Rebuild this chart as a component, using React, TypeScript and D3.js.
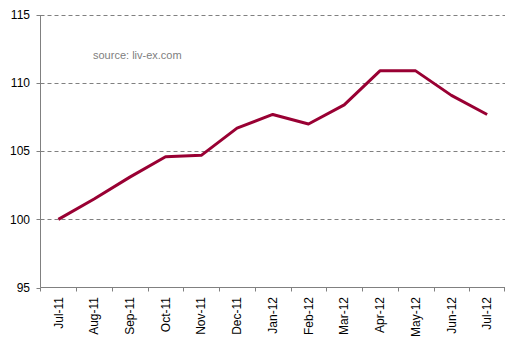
import React from "react";
import * as d3 from "d3";

const categories = ["Jul-11","Aug-11","Sep-11","Oct-11","Nov-11","Dec-11","Jan-12","Feb-12","Mar-12","Apr-12","May-12","Jun-12","Jul-12"];
const values = [100, 101.5, 103.1, 104.6, 104.7, 106.7, 107.7, 107.0, 108.4, 110.9, 110.9, 109.1, 107.7];
const yTicks = [95, 100, 105, 110, 115];
const sourceText = "source: liv-ex.com";

export default function App() {
  const W = 517, H = 347;
  const left = 40.5, right = 505, top = 15, bottom = 287.5;
  const x = d3.scaleBand<string>().domain(categories).range([left, right]);
  const y = d3.scaleLinear().domain([95, 115]).range([bottom, top]);
  const line = d3.line<number>()
    .x((_, i) => (x(categories[i]) as number) + x.bandwidth() / 2)
    .y((d) => y(d));
  const font = "Arial, 'Liberation Sans', sans-serif";
  return (
    <svg width={W} height={H} style={{ position: "absolute", left: 0, top: 0 }}>
      <rect width={W} height={H} fill="#fff" />
      {yTicks.filter((t) => t !== 95).map((t) => (
        <line key={t} x1={left} x2={right} y1={Math.round(y(t)) + 0.5} y2={Math.round(y(t)) + 0.5}
          stroke="#808080" strokeDasharray="4,3" strokeWidth={1} />
      ))}
      <line x1={left} x2={left} y1={top} y2={bottom} stroke="#808080" />
      <line x1={left} x2={right} y1={bottom} y2={bottom} stroke="#808080" />
      {yTicks.map((t) => (
        <g key={t}>
          <line x1={left - 4} x2={left} y1={Math.round(y(t)) + 0.5} y2={Math.round(y(t)) + 0.5} stroke="#808080" />
          <text x={30} y={y(t)} dy="0.35em" textAnchor="end" fontFamily={font} fontSize={12} fill="#000">{t}</text>
        </g>
      ))}
      {categories.map((c, i) => (
        <line key={"t" + i} x1={Math.round(x(c) as number) + 0.5} x2={Math.round(x(c) as number) + 0.5}
          y1={bottom} y2={bottom + 4} stroke="#808080" />
      ))}
      <line x1={right - 0.5} x2={right - 0.5} y1={bottom} y2={bottom + 4} stroke="#808080" />
      {categories.map((c) => {
        const cx = (x(c) as number) + x.bandwidth() / 2;
        return (
          <text key={c} transform={`translate(${cx},${bottom + 9.5}) rotate(-90)`} textAnchor="end" dy="0.35em"
            fontFamily={font} fontSize={12} fill="#000">{c}</text>
        );
      })}
      <path d={line(values) || ""} fill="none" stroke="#990033" strokeWidth={3} strokeLinejoin="round" />
      <text x={93} y={59} fontFamily={font} fontSize={11} fill="#808080">{sourceText}</text>
    </svg>
  );
}
